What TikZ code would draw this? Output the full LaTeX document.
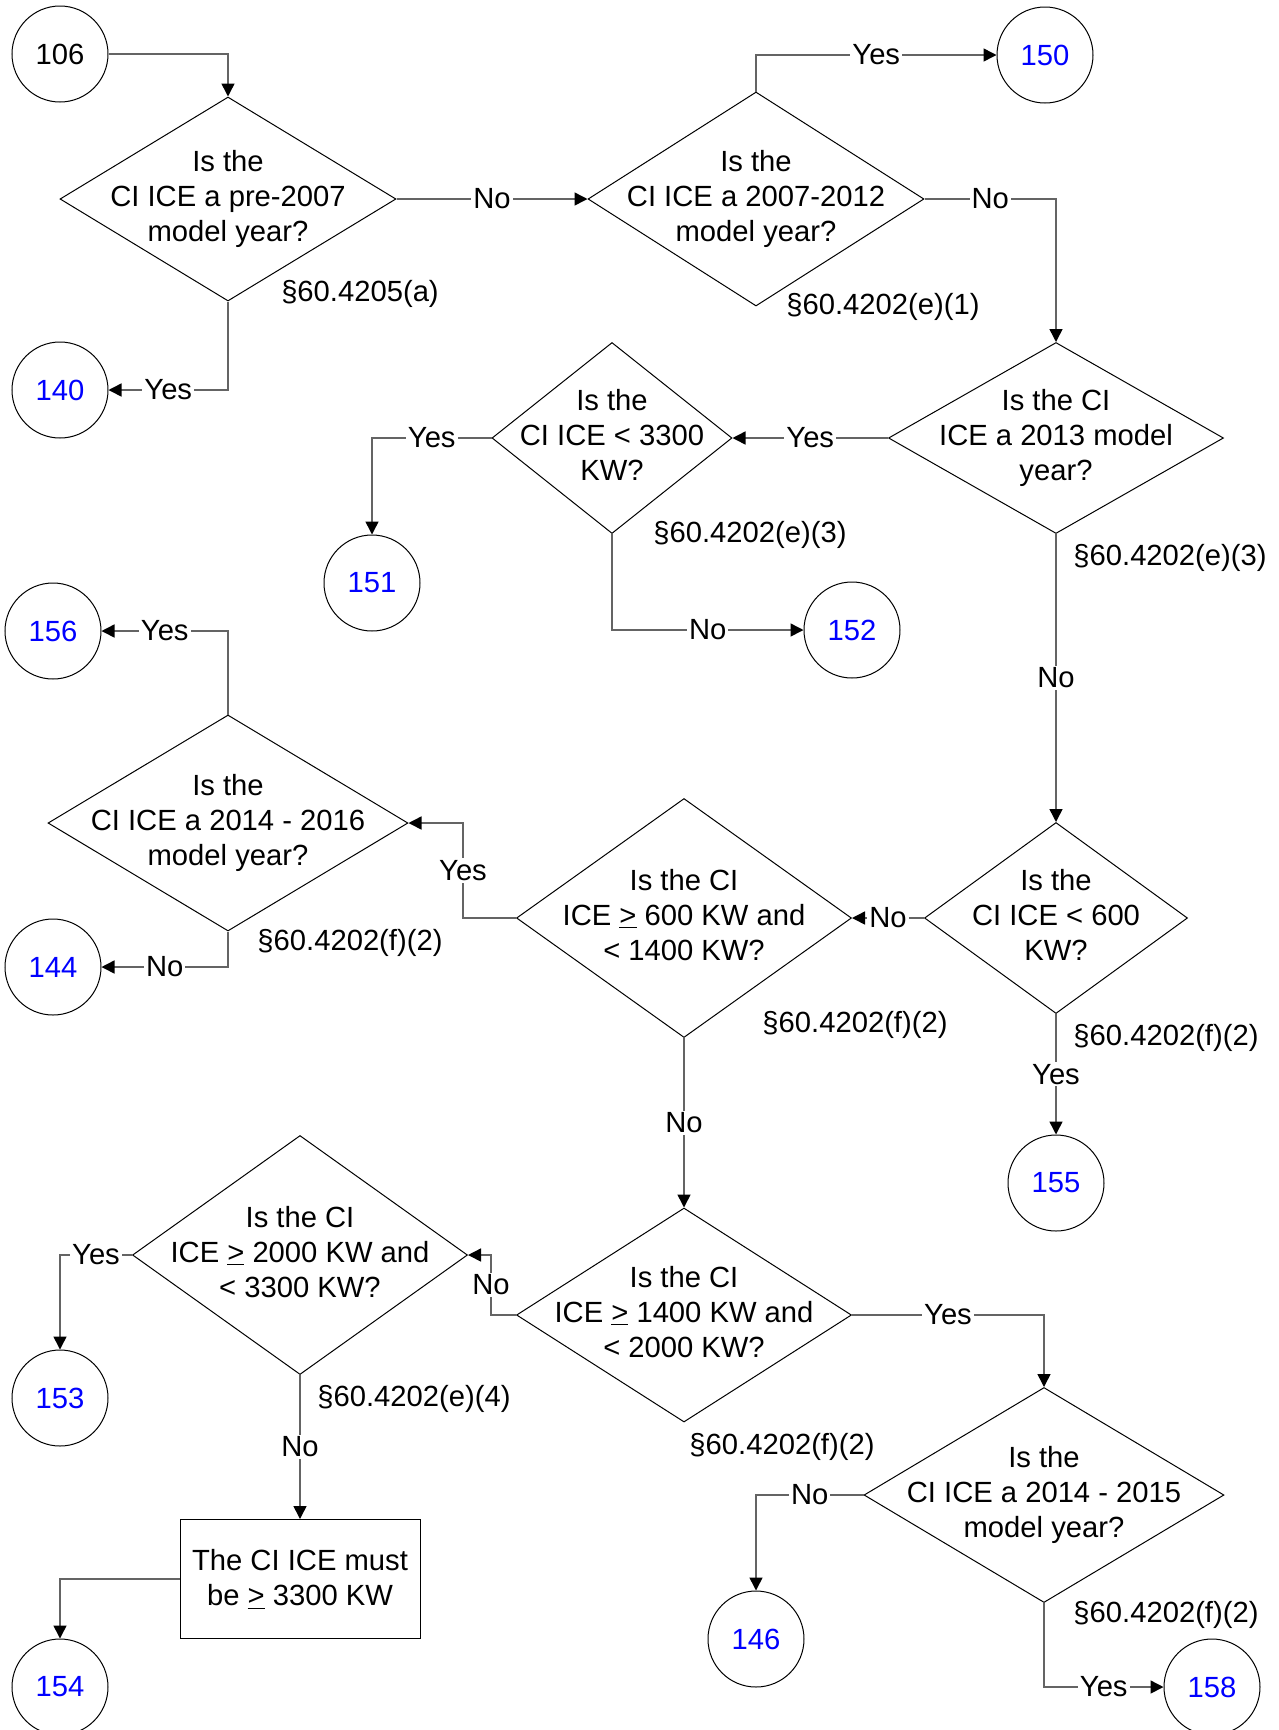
\documentclass[tikz,border=0pt]{standalone}
\usepackage{fontspec}
\setmainfont{Liberation Sans}
\usepackage{tikz}
\usetikzlibrary{shapes.geometric, arrows.meta}
\definecolor{numblue}{RGB}{0,0,255}
\definecolor{linegray}{RGB}{100,100,100}
\newcommand{\qfont}{\fontsize{14.6}{17.5}\selectfont}
\newcommand{\qtext}[1]{\makebox[0pt]{\begin{tabular}{@{}c@{}}#1\end{tabular}}}
\tikzset{
  decision/.style={diamond, draw=black, line width=0.5pt, inner sep=0pt, font=\qfont},
  endpoint/.style={circle, draw=black, line width=0.5pt, minimum size=48pt,
    inner sep=0pt, font=\qfont, text=numblue},
  stepbox/.style={rectangle, draw=black, line width=0.5pt, minimum width=120pt,
    minimum height=59.5pt, align=center, font=\qfont},
  arrow/.style={-{Triangle[length=6.5pt, width=6.5pt, color=black]}, line width=0.75pt, color=linegray},
  line/.style={line width=0.75pt, color=linegray},
  lbl/.style={fill=white, inner sep=1pt, text=black, font=\qfont},
  sectlbl/.style={inner sep=0pt, font=\qfont}
}

\begin{document}
\begin{tikzpicture}[x=0.5pt, y=-0.5pt]
  \useasboundingbox (0,0) rectangle (1279,1730);

  % Decisions
  \node[decision, minimum width=168pt, minimum height=102pt] (d1) at (228,199) {\qtext{Is the\\CI ICE a pre-2007\\model year?}};
  \node[decision, minimum width=168pt, minimum height=107pt] (d2) at (756,199) {\qtext{Is the\\CI ICE a 2007-2012\\model year?}};
  \node[decision, minimum width=167.5pt, minimum height=95.5pt] (d3) at (1056,438) {\qtext{Is the CI\\ICE a 2013 model\\year?}};
  \node[decision, minimum width=120pt, minimum height=95.5pt] (d4) at (612,438) {\qtext{Is the\\CI ICE < 3300\\KW?}};
  \node[decision, minimum width=131.5pt, minimum height=95.5pt] (d5) at (1056,918) {\qtext{Is the\\CI ICE < 600\\KW?}};
  \node[decision, minimum width=167.5pt, minimum height=119.5pt] (d6) at (684,918) {\qtext{Is the CI\\ICE \underline{>} 600 KW and\\< 1400 KW?}};
  \node[decision, minimum width=180pt, minimum height=108pt] (d7) at (228,823) {\qtext{Is the\\CI ICE a 2014 - 2016\\model year?}};
  \node[decision, minimum width=167.5pt, minimum height=107pt] (d8) at (684,1315) {\qtext{Is the CI\\ICE \underline{>} 1400 KW and\\< 2000 KW?}};
  \node[decision, minimum width=167.5pt, minimum height=119.5pt] (d9) at (300,1255) {\qtext{Is the CI\\ICE \underline{>} 2000 KW and\\< 3300 KW?}};
  \node[decision, minimum width=180pt, minimum height=107.5pt] (d10) at (1044,1495) {\qtext{Is the\\CI ICE a 2014 - 2015\\model year?}};
  \node[stepbox] (must) at (300,1579) {The CI ICE must\\be \underline{>} 3300 KW};

  % Off-page references
  \node[endpoint, text=black] (c106) at (60,54) {106};
  \node[endpoint] (c150) at (1045,55) {150};
  \node[endpoint] (c140) at (60,390) {140};
  \node[endpoint] (c151) at (372,583) {151};
  \node[endpoint] (c152) at (852,630) {152};
  \node[endpoint] (c156) at (53,631) {156};
  \node[endpoint] (c144) at (53,967) {144};
  \node[endpoint] (c155) at (1056,1183) {155};
  \node[endpoint] (c153) at (60,1398) {153};
  \node[endpoint] (c154) at (60,1687) {154};
  \node[endpoint] (c146) at (756,1639) {146};
  \node[endpoint] (c158) at (1212,1687) {158};

  % Citations
  \node[sectlbl] (r1) at (360,294) {§60.4205(a)};
  \node[sectlbl] (r2) at (883,307) {§60.4202(e)(1)};
  \node[sectlbl] (r3) at (750,535) {§60.4202(e)(3)};
  \node[sectlbl] (r4) at (1170,558) {§60.4202(e)(3)};
  \node[sectlbl] (r5) at (350,943) {§60.4202(f)(2)};
  \node[sectlbl] (r6) at (855,1025) {§60.4202(f)(2)};
  \node[sectlbl] (r7) at (1166,1038) {§60.4202(f)(2)};
  \node[sectlbl] (r8) at (782,1447) {§60.4202(f)(2)};
  \node[sectlbl] (r9) at (414,1399) {§60.4202(e)(4)};
  \node[sectlbl] (r10) at (1166,1615) {§60.4202(f)(2)};

  % Connections
  \draw[arrow] (c106.east) -| (d1.north);
  \draw[arrow] (d1.east) -- node[lbl]{No} (d2.west);
  \draw[arrow] (d1.south) |- node[lbl, pos=0.75]{Yes} (c140.east);
  \draw[arrow] (d2.north) |- node[lbl, pos=0.75]{Yes} (c150.west);
  \draw[arrow] (d2.east) -| node[lbl, pos=0.25]{No} (d3.north);
  \draw[arrow] (d3.west) -- node[lbl]{Yes} (d4.east);
  \draw[arrow] (d4.west) -| node[lbl, pos=0.25]{Yes} (c151.north);
  \draw[arrow] (d4.south) |- node[lbl, pos=0.75]{No} (c152.west);
  \draw[arrow] (d3.south) -- node[lbl]{No} (d5.north);
  \draw[arrow] (d5.west) -- node[lbl]{No} (d6.east);
  \draw[arrow] (d5.south) -- node[lbl]{Yes} (c155.north);
  \draw[arrow] (d6.west) -- ++(-53,0) |- node[lbl, pos=0.25]{Yes} (d7.east);
  \draw[arrow] (d7.north) |- node[lbl, pos=0.75]{Yes} (c156.east);
  \draw[arrow] (d7.south) |- node[lbl, pos=0.75]{No} (c144.east);
  \draw[arrow] (d6.south) -- node[lbl]{No} (d8.north);
  \draw[arrow] (d8.west) -- ++(-25,0) |- node[lbl, pos=0.25]{No} (d9.east);
  \draw[arrow] (d8.east) -| node[lbl, pos=0.25]{Yes} (d10.north);
  \draw[arrow] (d9.west) -| node[lbl, pos=0.25]{Yes} (c153.north);
  \draw[arrow] (d9.south) -- node[lbl]{No} (must.north);
  \draw[arrow] (must.west) -| (c154.north);
  \draw[arrow] (d10.west) -| node[lbl, pos=0.25]{No} (c146.north);
  \draw[arrow] (d10.south) |- node[lbl, pos=0.75]{Yes} (c158.west);

\end{tikzpicture}
\end{document}
